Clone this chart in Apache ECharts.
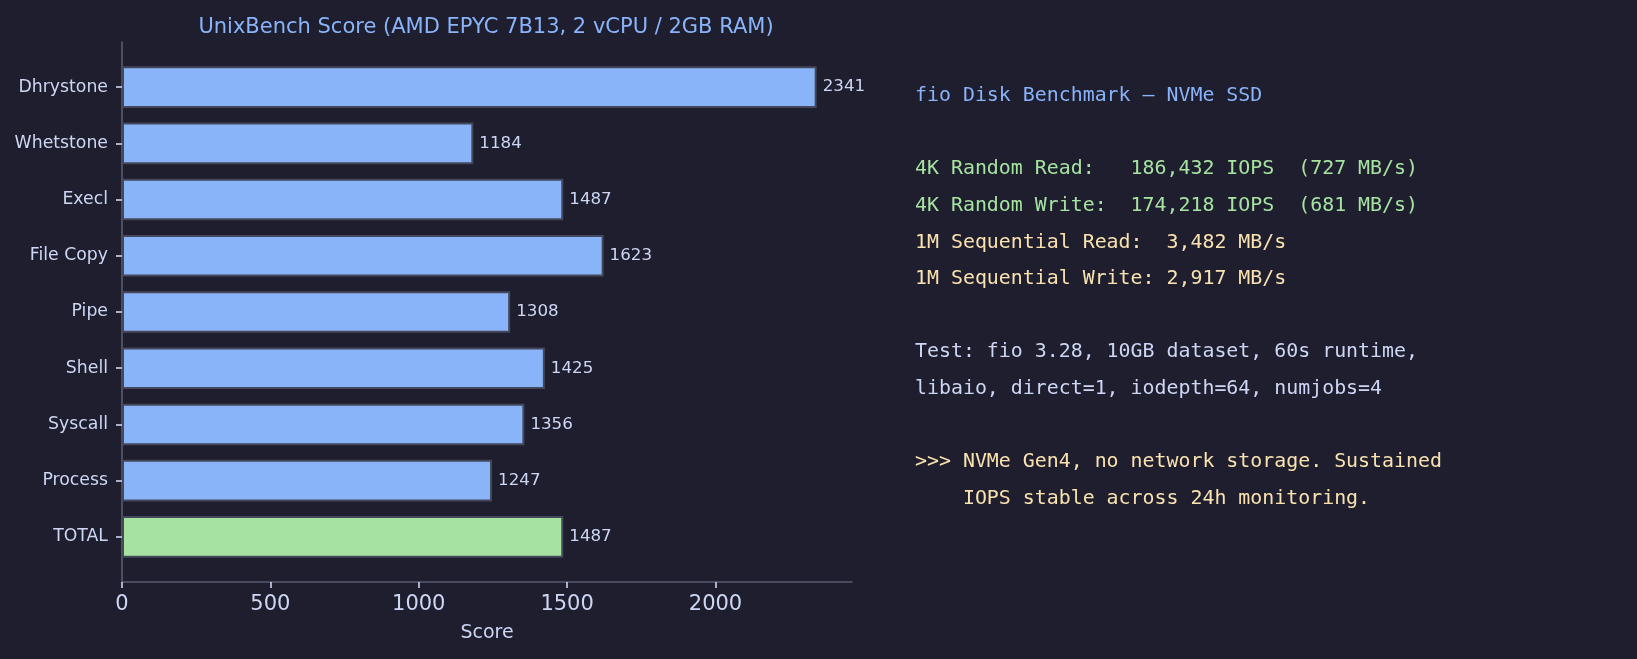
<!DOCTYPE html>
<html>
<head>
<meta charset="utf-8">
<script src="https://cdn.jsdelivr.net/npm/echarts@6/dist/echarts.min.js"></script>
<style>
  html, body { margin: 0; padding: 0; background: #1e1e2e; }
  #chart { width: 1637px; height: 659px; }
</style>
</head>
<body>
<div id="chart"></div>
<script>
// UnixBench scores
var categories = ['Dhrystone', 'Whetstone', 'Execl', 'File Copy', 'Pipe', 'Shell', 'Syscall', 'Process', 'TOTAL'];
var scores = [2341, 1184, 1487, 1623, 1308, 1425, 1356, 1247, 1487];
var xTicks = [0, 500, 1000, 1500, 2000];

// fio text block, one entry per line: [style, text]
var fioLines = [
  ['blue', 'fio Disk Benchmark \u2014 NVMe SSD'],
  ['', ''],
  ['green', '4K Random Read:   186,432 IOPS  (727 MB/s)'],
  ['green', '4K Random Write:  174,218 IOPS  (681 MB/s)'],
  ['yellow', '1M Sequential Read:  3,482 MB/s'],
  ['yellow', '1M Sequential Write: 2,917 MB/s'],
  ['', ''],
  ['text', 'Test: fio 3.28, 10GB dataset, 60s runtime,'],
  ['text', 'libaio, direct=1, iodepth=64, numjobs=4'],
  ['', ''],
  ['yellow', '>>> NVMe Gen4, no network storage. Sustained'],
  ['yellow', '    IOPS stable across 24h monitoring.']
];

var palette = {
  bg: '#1e1e2e',
  text: '#cdd6f4',
  blue: '#89b4fa',
  green: '#a6e3a1',
  yellow: '#f9e2af',
  axis: '#585b70',
  edge: '#45475a'
};

var chart = echarts.init(document.getElementById('chart'));

var barData = categories.map(function (c, i) {
  return {
    value: scores[i],
    itemStyle: { color: c === 'TOTAL' ? palette.green : palette.blue }
  };
});

var textChildren = fioLines.map(function (l, i) {
  return {
    type: 'text',
    x: 0,
    y: i * 36.6,
    style: {
      text: l[1],
      fill: palette[l[0]] || palette.text,
      font: '19.9px "DejaVu Sans Mono"',
      verticalAlign: 'middle'
    }
  };
});

chart.setOption({
  backgroundColor: palette.bg,
  animation: false,
  textStyle: { fontFamily: 'DejaVu Sans' },
  title: {
    text: 'UnixBench Score (AMD EPYC 7B13, 2 vCPU / 2GB RAM)',
    left: 481,
    top: 23,
    textAlign: 'center',
    textVerticalAlign: 'middle',
    textStyle: {
      color: palette.blue,
      fontSize: 21,
      fontWeight: 'normal',
      fontFamily: 'DejaVu Sans'
    }
  },
  grid: [
    { left: 122, top: 42, width: 730, height: 540 },
    { left: 122, top: 59, width: 730, height: 506 }
  ],
  xAxis: [
    {
      gridIndex: 0,
      type: 'value',
      min: 0,
      max: 2460,
      interval: 500,
      name: 'Score',
      nameLocation: 'middle',
      nameGap: 42,
      nameTextStyle: { color: palette.text, fontSize: 19 },
      axisLine: { show: true, lineStyle: { color: palette.axis, width: 1.6 } },
      axisTick: { show: true, length: 6, lineStyle: { color: palette.text, width: 1.6 } },
      axisLabel: {
        color: palette.text,
        fontSize: 21,
        margin: 12,
        showMaxLabel: false,
        formatter: function (v) { return xTicks.indexOf(v) >= 0 ? String(v) : ''; }
      },
      splitLine: { show: false }
    },
    {
      gridIndex: 1,
      type: 'value',
      min: 0,
      max: 2460,
      show: false
    }
  ],
  yAxis: [
    {
      gridIndex: 0,
      type: 'value',
      min: 0,
      max: 1,
      axisLine: { show: true, lineStyle: { color: palette.axis, width: 1.6 } },
      axisTick: { show: false },
      axisLabel: { show: false },
      splitLine: { show: false }
    },
    {
      gridIndex: 1,
      type: 'category',
      inverse: true,
      data: categories,
      axisLine: { show: false },
      axisTick: { show: true, alignWithLabel: true, length: 6, lineStyle: { color: palette.text, width: 1.6 } },
      axisLabel: { color: palette.text, fontSize: 17.3, margin: 14 }
    }
  ],
  series: [
    {
      type: 'bar',
      xAxisIndex: 1,
      yAxisIndex: 1,
      data: barData,
      barWidth: '74%',
      itemStyle: { borderColor: palette.edge, borderWidth: 2 },
      label: {
        show: true,
        position: 'right',
        distance: 6,
        color: palette.text,
        fontSize: 16.7
      }
    }
  ],
  graphic: [
    {
      type: 'group',
      x: 915,
      y: 96,
      children: textChildren
    }
  ]
});
</script>
</body>
</html>
